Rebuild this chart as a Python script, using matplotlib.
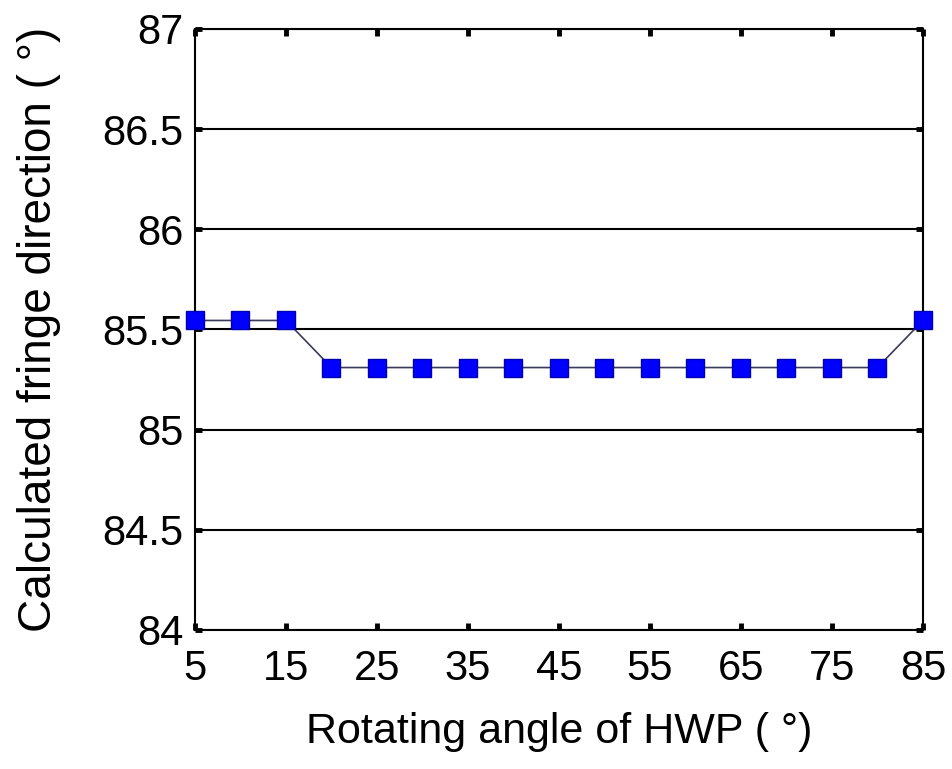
import matplotlib
matplotlib.use('Agg')
import matplotlib.pyplot as plt
import numpy as np

# data
angle = [5, 10, 15, 20, 25, 30, 35, 40, 45, 50, 55, 60, 65, 70, 75, 80, 85]
fringe = [85.545, 85.545, 85.545, 85.31, 85.31, 85.31, 85.31, 85.31, 85.31,
          85.31, 85.31, 85.31, 85.31, 85.31, 85.31, 85.31, 85.545]
xticks = [5, 15, 25, 35, 45, 55, 65, 75, 85]
yticks = [84, 84.5, 85, 85.5, 86, 86.5, 87]
ytick_labels = ['84', '84.5', '85', '85.5', '86', '86.5', '87']

plt.rcParams['font.family'] = ['Liberation Sans', 'DejaVu Sans']

fig = plt.figure(figsize=(9.53, 7.69), dpi=100)
ax = fig.add_axes([0.2046, 0.1808, 0.7639, 0.7815])

# horizontal grid only
for yv in yticks:
    ax.axhline(yv, color='black', lw=1.5, zorder=1)

ax.plot(angle, fringe, color='#3a3a5a', lw=1.2, marker='s', markersize=13,
        markerfacecolor='#0000ff', markeredgecolor='#0000b0', markeredgewidth=1,
        clip_on=False, zorder=3)

ax.set_xlim(5, 85)
ax.set_ylim(84, 87)
ax.set_xticks(xticks)
ax.set_yticks(yticks)
ax.set_yticklabels(ytick_labels)
ax.tick_params(direction='in', length=5, width=3.5, top=True, right=True,
               labelsize=30, pad=8, color='black')
ax.tick_params(axis='x', pad=14)

for s in ax.spines.values():
    s.set_linewidth(1.5)
    s.set_color('black')

ax.set_xlabel('Rotating angle of HWP ( °)', fontsize=31, labelpad=16)
ax.set_ylabel('Calculated fringe direction ( °)', fontsize=33, labelpad=30)

fig.savefig('out.png', dpi=100)
